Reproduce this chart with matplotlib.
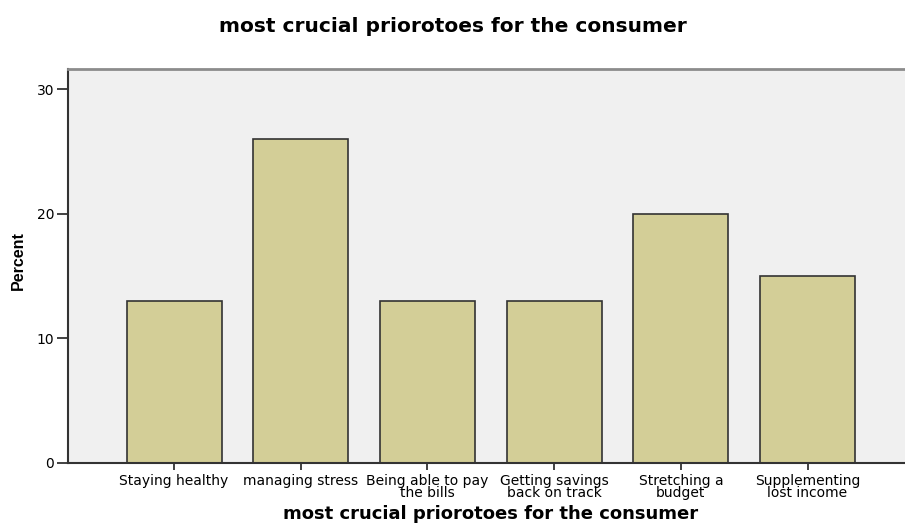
import matplotlib.pyplot as plt

# survey answers (percent)
categories = ["Staying healthy", "managing stress", "Being able to pay\nthe bills",
              "Getting savings\nback on track", "Stretching a\nbudget",
              "Supplementing\nlost income"]
percent = [13, 26, 13, 13, 20, 15]
yticks = [0, 10, 20, 30]

fig = plt.figure(figsize=(9.05, 5.27), dpi=100)
ax = fig.add_axes([68 / 905, 64 / 527, 845.6 / 905, 394 / 527])
ax.set_facecolor("#F0F0F0")

pos = list(range(len(categories)))
ax.bar(pos, percent, width=0.75, color="#D3CE97", edgecolor="#333333", linewidth=1.2, zorder=2)

ax.set_xlim(-0.837, len(categories) - 1 + 0.837)
ax.set_ylim(0, 31.62)
ax.set_yticks(yticks)
ax.set_xticks(pos)
ax.set_xticklabels(categories, fontsize=10, linespacing=0.85, family="DejaVu Sans")
ax.tick_params(axis="x", length=5, width=1.3, color="#333333", pad=3)
ax.tick_params(axis="y", length=8, width=1.3, color="#333333", pad=2, labelsize=10)

for s in ["left", "bottom"]:
    ax.spines[s].set_color("#333333")
    ax.spines[s].set_linewidth(1.5)
ax.spines["top"].set_color("#8c8c8c")
ax.spines["top"].set_linewidth(2)
ax.spines["right"].set_visible(False)

ax.set_xlabel("most crucial priorotoes for the consumer", fontsize=13,
              fontweight="bold", labelpad=3)
fig.text(18 / 905, 1 - 261 / 527, "Percent", rotation=90, ha="center", va="center",
         fontsize=11.5, fontweight="bold", family="Liberation Sans")
fig.text(0.5, 1 - 32 / 527, "most crucial priorotoes for the consumer", ha="center",
         va="baseline", fontsize=14.5, fontweight="bold")

fig.savefig("out.png", dpi=100)
